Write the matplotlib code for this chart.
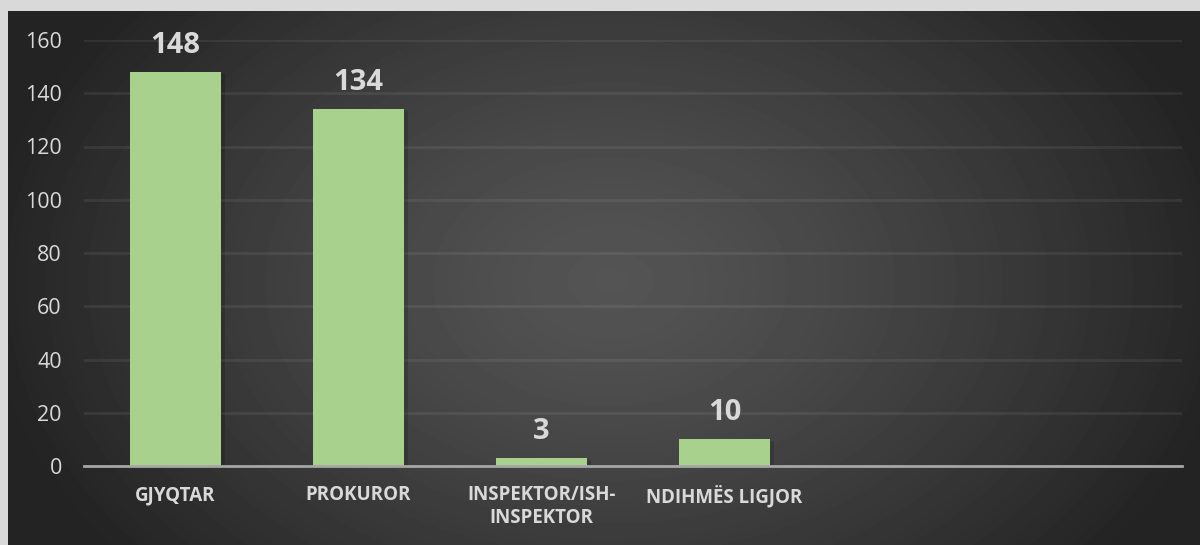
import numpy as np
import matplotlib.pyplot as plt

# data
categories = ["GJYQTAR", "PROKUROR", "INSPEKTOR/ISH-\nINSPEKTOR", "NDIHMËS LIGJOR", "", ""]
values = [148, 134, 3, 10, None, None]
yticks = [0, 20, 40, 60, 80, 100, 120, 140, 160]

plt.rcParams['font.family'] = ['Open Sans', 'DejaVu Sans']

W, H = 1200, 545
fig = plt.figure(figsize=(12, 5.45), dpi=100, facecolor="#d9d9d9")

# dark panel with radial gradient
bg = fig.add_axes([8 / W, 0, 1 - 8 / W, 1 - 11 / H])
bg.set_axis_off()
yy, xx = np.mgrid[0:534, 0:1192]
r = np.sqrt(((xx - 602) / 600.0) ** 2 + ((yy - 270) / 420.0) ** 2)
shade = np.clip(0.33 - 0.18 * r ** 1.3, 0.14, 0.34)
bg.imshow(shade, cmap="gray", vmin=0, vmax=1, aspect="auto", interpolation="bilinear")

ax = fig.add_axes([84 / W, 1 - 466 / H, 1098 / W, 426 / H])
ax.set_facecolor("none")

x = np.arange(len(categories))
heights = [v if v is not None else 0 for v in values]
shown = [i for i, v in enumerate(values) if v is not None]

# soft shadow
ax.bar(x[shown] + 0.02, [heights[i] for i in shown], 0.5, bottom=-0.6,
       color="black", alpha=0.15, zorder=2)
bars = ax.bar(x[shown], [heights[i] for i in shown], 0.5, color="#a9d18e", zorder=3)

ax.set_xlim(-0.5, len(categories) - 0.5)
ax.set_ylim(0, 160)
ax.set_yticks(yticks)
ax.set_xticks(x)
ax.set_xticklabels(categories, fontsize=13.5, fontweight="bold", color="#d9d9d9",
                   linespacing=1.2, va="top")
ax.tick_params(axis="x", length=0, pad=14)
ax.tick_params(axis="y", length=0, pad=16, labelsize=15.5, labelcolor="#d9d9d9")

ax.grid(axis="y", color="white", alpha=0.07, linewidth=2, zorder=0)
ax.set_axisbelow(True)
for s in ["top", "right", "left"]:
    ax.spines[s].set_visible(False)
ax.spines["bottom"].set_color("#a6a6a6")
ax.spines["bottom"].set_linewidth(2)
ax.spines["bottom"].set_zorder(4)

for rect in bars:
    h = rect.get_height()
    ax.annotate(f"{h:.0f}", xy=(rect.get_x() + rect.get_width() / 2, h),
                xytext=(0, 14), textcoords="offset points",
                ha="center", va="baseline", fontsize=21, fontweight="bold",
                color="#d9d9d9")

plt.savefig("out.png", dpi=100, facecolor=fig.get_facecolor())
